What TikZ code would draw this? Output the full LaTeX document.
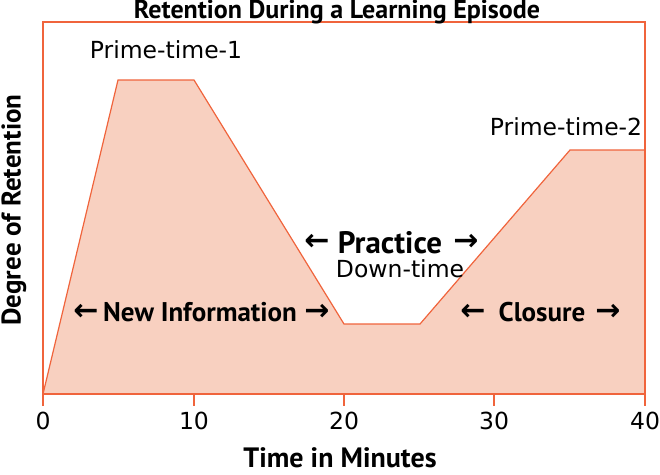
\documentclass[tikz,border=0pt]{standalone}
\usepackage{fontspec}
\setmainfont{PT Sans}
\newfontfamily\arr{DejaVu Sans}
\newfontfamily\dv{DejaVu Sans}
\definecolor{ln}{RGB}{240,100,60}
\definecolor{fl}{RGB}{248,208,192}
\begin{document}
\begin{tikzpicture}[x=1pt,y=-1pt,
  big/.style={font=\fontsize{27}{29}\selectfont\bfseries,inner sep=0pt},
  reg/.style={font=\fontsize{23.5}{25}\selectfont\dv,inner sep=0pt},
  ar/.style={font=\fontsize{30}{32}\selectfont\arr\bfseries,inner sep=0pt}]
\useasboundingbox (0,0) rectangle (660,474);
\coordinate (p0) at (43,394);
\coordinate (p1) at (118,80);
\coordinate (p2) at (194,80);
\coordinate (p3) at (344,324);
\coordinate (p4) at (420,324);
\coordinate (p5) at (570,150);
\coordinate (p6) at (645,150);
\coordinate (p7) at (645,394);
\fill[fl] (p0)--(p1)--(p2)--(p3)--(p4)--(p5)--(p6)--(p7)--cycle;
\draw[ln,line width=1.2pt] (p0)--(p1)--(p2)--(p3)--(p4)--(p5)--(p6);
\draw[ln,line width=1.2pt] (43,406)--(43,22)--(645,22)--(645,406);
\draw[ln,line width=1.2pt] (p0)--(p7);
\foreach \i/\x in {0/43,10/194,20/344,30/494,40/645}{
  \draw[ln,line width=1.2pt] (\x,394)--(\x,406);
  \node[reg] (t\i) at (\x,421) {\i};}
\node[big,font=\fontsize{26}{28}\selectfont\bfseries] (title) at (337,12) {Retention During a Learning Episode};
\node[big,font=\fontsize{28}{30}\selectfont\bfseries] (xl) at (340,458) {Time in Minutes};
\node[big,rotate=90] (yl) at (14,210) {Degree of Retention};
\node[reg] (pt1) at (166,50) {Prime-time-1};
\node[reg] (pt2) at (566,127) {Prime-time-2};
\node[big,font=\fontsize{31}{33}\selectfont\bfseries] (pr) at (390,243) {Practice};
\node[ar] (pra) at (317,242) {←};
\node[ar] (prb) at (466,242) {→};
\node[reg] (dt) at (400,269) {Down-time};
\node[big] (ni) at (200,312) {New Information};
\node[ar] (nia) at (86,312) {←};
\node[ar] (nib) at (317,312) {→};
\node[big] (cl) at (542,312) {Closure};
\node[ar] (cla) at (473,312) {←};
\node[ar] (clb) at (608,312) {→};
\end{tikzpicture}
\end{document}
